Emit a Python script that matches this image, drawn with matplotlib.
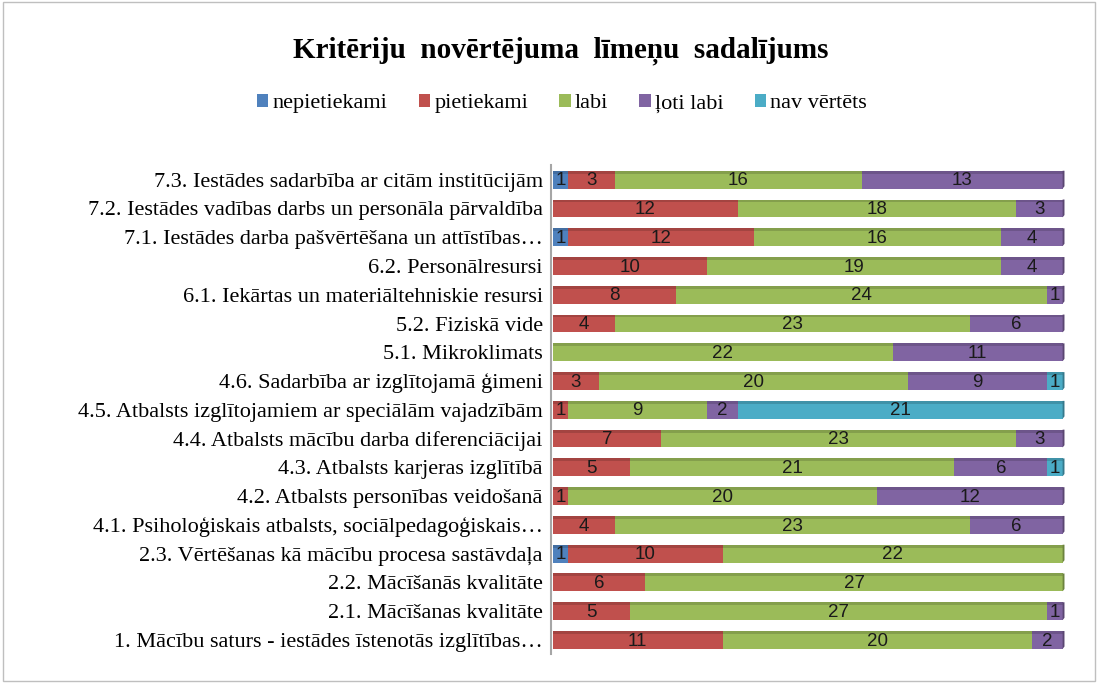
import numpy as np
import matplotlib
matplotlib.use("Agg")
from matplotlib import pyplot as plt
from matplotlib.patches import Rectangle

categories = [
    "7.3. Iestādes sadarbība ar citām institūcijām",
    "7.2. Iestādes vadības darbs un personāla pārvaldība",
    "7.1. Iestādes darba pašvērtēšana un attīstības…",
    "6.2. Personālresursi",
    "6.1. Iekārtas un materiāltehniskie resursi",
    "5.2. Fiziskā vide",
    "5.1. Mikroklimats",
    "4.6. Sadarbība ar izglītojamā ģimeni",
    "4.5. Atbalsts izglītojamiem ar speciālām vajadzībām",
    "4.4. Atbalsts mācību darba diferenciācijai",
    "4.3. Atbalsts karjeras izglītībā",
    "4.2. Atbalsts personības veidošanā",
    "4.1. Psiholoģiskais atbalsts, sociālpedagoģiskais…",
    "2.3. Vērtēšanas kā mācību procesa sastāvdaļa",
    "2.2. Mācīšanās kvalitāte",
    "2.1. Mācīšanas kvalitāte",
    "1. Mācību saturs - iestādes īstenotās izglītības…",
]
nepietiekami = [1, 0, 1, 0, 0, 0, 0, 0, 0, 0, 0, 0, 0, 1, 0, 0, 0]
pietiekami = [3, 12, 12, 10, 8, 4, 0, 3, 1, 7, 5, 1, 4, 10, 6, 5, 11]
labi = [16, 18, 16, 19, 24, 23, 22, 20, 9, 23, 21, 20, 23, 22, 27, 27, 20]
loti_labi = [13, 3, 4, 4, 1, 6, 11, 9, 2, 3, 6, 12, 6, 0, 0, 1, 2]
nav_vertets = [0, 0, 0, 0, 0, 0, 0, 1, 21, 0, 1, 0, 0, 0, 0, 0, 0]

series = [
    ("nepietiekami", nepietiekami, "#4F81BD"),
    ("pietiekami", pietiekami, "#C0504D"),
    ("labi", labi, "#9BBB59"),
    ("ļoti labi", loti_labi, "#8064A2"),
    ("nav vērtēts", nav_vertets, "#4BACC6"),
]


def darker(c, f=0.75):
    rgb = np.array(matplotlib.colors.to_rgb(c))
    return tuple(rgb * f)


fig = plt.figure(figsize=(10.98, 6.83), dpi=100)
fig.patches.append(Rectangle((0.003, 0.003), 0.994, 0.994, transform=fig.transFigure,
                             fill=False, edgecolor="#BFBFBF", linewidth=1))
ax = fig.add_axes([0.502, 0.042, 0.470, 0.716])

y = np.arange(len(categories))[::-1]
left = np.zeros(len(categories))
h = 0.62
for name, vals, col in series:
    vals = np.array(vals, dtype=float)
    ax.barh(y, vals, left=left, height=h, color=col, label=name, linewidth=0)
    # top strip for a bit of depth
    ax.barh(y + h / 2 - 0.05, vals, left=left, height=0.1, color=darker(col, 0.85), linewidth=0)
    for yi, l, v in zip(y, left, vals):
        if v > 0:
            ax.text(l + v / 2, yi - 0.04, f"{int(v)}", ha="center", va="center",
                    fontsize=13.5, family="Liberation Sans", color="#1a1a1a")
    left += vals

# right side faces
for k, (yi, total) in enumerate(zip(y, left)):
    last_col = [s[2] for s in series if s[1][k] > 0][-1]
    ax.add_patch(plt.Polygon([[total, yi - h / 2], [total + 0.12, yi - h / 2 + 0.08],
                              [total + 0.12, yi + h / 2], [total, yi + h / 2]],
                             closed=True, color=darker(last_col, 0.7), linewidth=0))

ax.set_xlim(-0.1, 33.3)
ax.set_ylim(-0.5, len(categories) - 0.5)
ax.set_yticks(y)
ax.set_yticklabels(categories, fontsize=16, family="Liberation Serif")
ax.tick_params(axis="y", length=0, pad=6)
ax.set_xticks([])
for s in ["top", "right", "bottom"]:
    ax.spines[s].set_visible(False)
ax.spines["left"].set_color("#A6A6A6")
ax.spines["left"].set_linewidth(1.5)

fig.text(0.511, 0.925, "Kritēriju  novērtējuma  līmeņu  sadalījums", ha="center", va="center",
         fontsize=21, fontweight="bold", family="Liberation Serif")
leg = fig.legend(loc="center", bbox_to_anchor=(0.512, 0.848), ncol=5, frameon=False,
                 prop={"family": "Liberation Serif", "size": 16}, handlelength=0.5,
                 handleheight=0.5, handletextpad=0.2, columnspacing=1.4)

fig.savefig("out.png", dpi=100)
